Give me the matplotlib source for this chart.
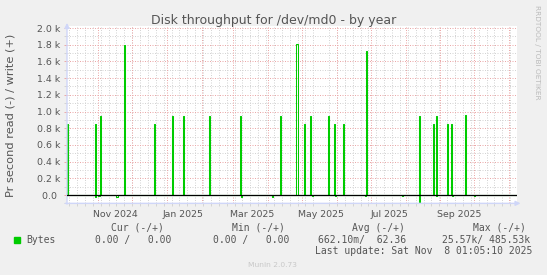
import numpy as np
import pandas as pd
import matplotlib
matplotlib.use("Agg")
import matplotlib.pyplot as plt
import matplotlib.dates as mdates
from matplotlib.patches import Rectangle
from matplotlib.ticker import FixedLocator, MultipleLocator

# time window of the munin "year" graph (400 days)
end = pd.Timestamp("2025-11-08 01:05:10")
start = end - pd.Timedelta(days=400)

# daily write bytes (+)
write_dates = ["2024-10-04", "2024-10-29", "2024-11-02", "2024-11-24",
               "2024-12-20", "2025-01-05", "2025-01-15", "2025-02-07",
               "2025-03-07", "2025-04-11", "2025-04-26",
               "2025-05-03", "2025-05-08", "2025-05-24", "2025-05-29", "2025-06-06",
               "2025-06-27", "2025-08-13", "2025-08-25", "2025-08-28",
               "2025-09-07", "2025-09-10", "2025-09-23"]
write_vals = [850, 850, 950, 1800,
              850, 950, 950, 950,
              950, 950, 1810,
              850, 950, 950, 850, 850,
              1720, 950, 850, 950,
              850, 850, 960]

# daily read bytes (-)
read_dates = ["2024-10-29", "2024-11-01", "2024-11-17", "2025-03-08", "2025-04-04",
              "2025-05-10", "2025-05-30", "2025-06-26", "2025-07-29", "2025-08-13",
              "2025-08-28", "2025-09-11", "2025-10-01"]
read_vals = [20, 15, 20, 20, 25,
             15, 15, 15, 15, 90,
             15, 15, 15]

ytick_vals = [0, 200, 400, 600, 800, 1000, 1200, 1400, 1600, 1800, 2000]
ytick_labels = ["0.0 ", "0.2 k", "0.4 k", "0.6 k", "0.8 k", "1.0 k",
                "1.2 k", "1.4 k", "1.6 k", "1.8 k", "2.0 k"]
xlabel_dates = ["2024-11-16 00:00", "2025-01-15 12:00", "2025-03-18 00:00", "2025-05-18 00:00",
                "2025-07-17 12:00", "2025-09-18 00:00"]
xlabel_text = ["Nov 2024", "Jan 2025", "Mar 2025", "May 2025", "Jul 2025", "Sep 2025"]

days = pd.date_range("2024-10-03", "2025-11-08", freq="D")
write = pd.Series(0.0, index=days)
write[pd.to_datetime(write_dates)] = write_vals
read = pd.Series(0.0, index=days)
read[pd.to_datetime(read_dates)] = read_vals

W, H = 547, 275
fig = plt.figure(figsize=(W / 100, H / 100), dpi=100, facecolor="#F0F0F0")
# plot area: x 67..517 px, y 25.5..203.35 px
ax = fig.add_axes([67 / W, 1 - 203.35 / H, 450 / W, (203.35 - 25.5) / H])
ax.set_facecolor("white")

green = "#00CC00"
ax.plot(days, write.values, drawstyle="steps-post", color=green, lw=0.75, zorder=3)
ax.plot(days, -read.values, drawstyle="steps-post", color=green, lw=0.75, zorder=3)
ax.axhline(0, color="black", lw=0.9, zorder=4)

ax.set_xlim(start, end)
ax.set_ylim(-100, 2030)

# grid: weekly minor, monthly major (red)
ax.xaxis.set_minor_locator(mdates.WeekdayLocator(byweekday=mdates.SU))
ax.xaxis.set_major_locator(FixedLocator(mdates.date2num(pd.to_datetime(xlabel_dates))))
ax.set_xticklabels(xlabel_text)
ax.yaxis.set_major_locator(FixedLocator(ytick_vals))
ax.set_yticklabels(ytick_labels)
ax.yaxis.set_minor_locator(MultipleLocator(100))

grey = "#D4D4D4"
red = "#EBA9A9"
dash = (0, (1, 1.5))
ax.grid(which="minor", axis="both", color=grey, lw=0.72, linestyle=dash, zorder=1)
ax.grid(which="major", axis="y", color=red, lw=0.72, linestyle=dash, zorder=2)
for m in pd.date_range("2024-11-01", "2025-11-01", freq="MS"):
    ax.axvline(m, color=red, lw=0.72, linestyle=dash, zorder=2)
ax.set_axisbelow(True)

for s in ax.spines.values():
    s.set_visible(False)
txt = "#555555"
ax.tick_params(axis="x", which="major", length=0, labelsize=6.75, colors=txt, pad=5)
ax.tick_params(axis="x", which="minor", length=2, width=0.7, color=grey)
ax.tick_params(axis="y", which="major", length=2, width=0.7, color=red,
               labelsize=6.75, labelcolor=txt, pad=3)
ax.tick_params(axis="y", which="minor", length=2, width=0.7, color=grey)

# axis arrows
axis_c = "#CFD6F8"
ax.annotate("", xy=(1.014, 0), xytext=(-0.01, 0), xycoords="axes fraction",
            arrowprops=dict(arrowstyle="-|>", color=axis_c, lw=1, mutation_scale=7))
ax.annotate("", xy=(0, 1.03), xytext=(0, -0.02), xycoords="axes fraction",
            arrowprops=dict(arrowstyle="-|>", color=axis_c, lw=1, mutation_scale=7))


def px(x, y):
    return x / W, 1 - y / H


fig.text(*px(273.5, 24), "Disk throughput for /dev/md0 - by year", ha="center",
         va="baseline", fontsize=9, color=txt)
fig.text(*px(10.5, 115), "Pr second read (-) / write (+)", rotation=90, ha="center",
         va="center", fontsize=8.2, color=txt)
fig.text(*px(536.5, 5), "RRDTOOL / TOBI OETIKER", rotation=270, ha="center",
         va="top", fontsize=5.3, color="#BBBBBB")

mono = "DejaVu Sans Mono"
fs = 7.0
for x, s in [(111, "Cur (-/+)"), (232, "Min (-/+)"), (352.3, "Avg (-/+)"), (472.7, "Max (-/+)")]:
    fig.text(*px(x, 230.7), s, family=mono, fontsize=fs, color=txt, va="baseline")
for x, s in [(26.7, "Bytes"), (95, "0.00 /   0.00"), (213, "0.00 /   0.00"),
             (318.3, "662.10m/  62.36"), (442.3, "25.57k/ 485.53k")]:
    fig.text(*px(x, 242.6), s, family=mono, fontsize=fs, color=txt, va="baseline")
fig.text(*px(532.3, 254.3), "Last update: Sat Nov  8 01:05:10 2025", family=mono,
         fontsize=fs, color=txt, va="baseline", ha="right")
fig.patches.append(Rectangle(px(14, 243), 6 / W, 6 / H, transform=fig.transFigure,
                             color=green, figure=fig))
fig.text(*px(272.5, 266.7), "Munin 2.0.73", ha="center", va="baseline",
         fontsize=5.4, color="#C8C8C8")

fig.savefig("out.png", dpi=100, facecolor=fig.get_facecolor())
